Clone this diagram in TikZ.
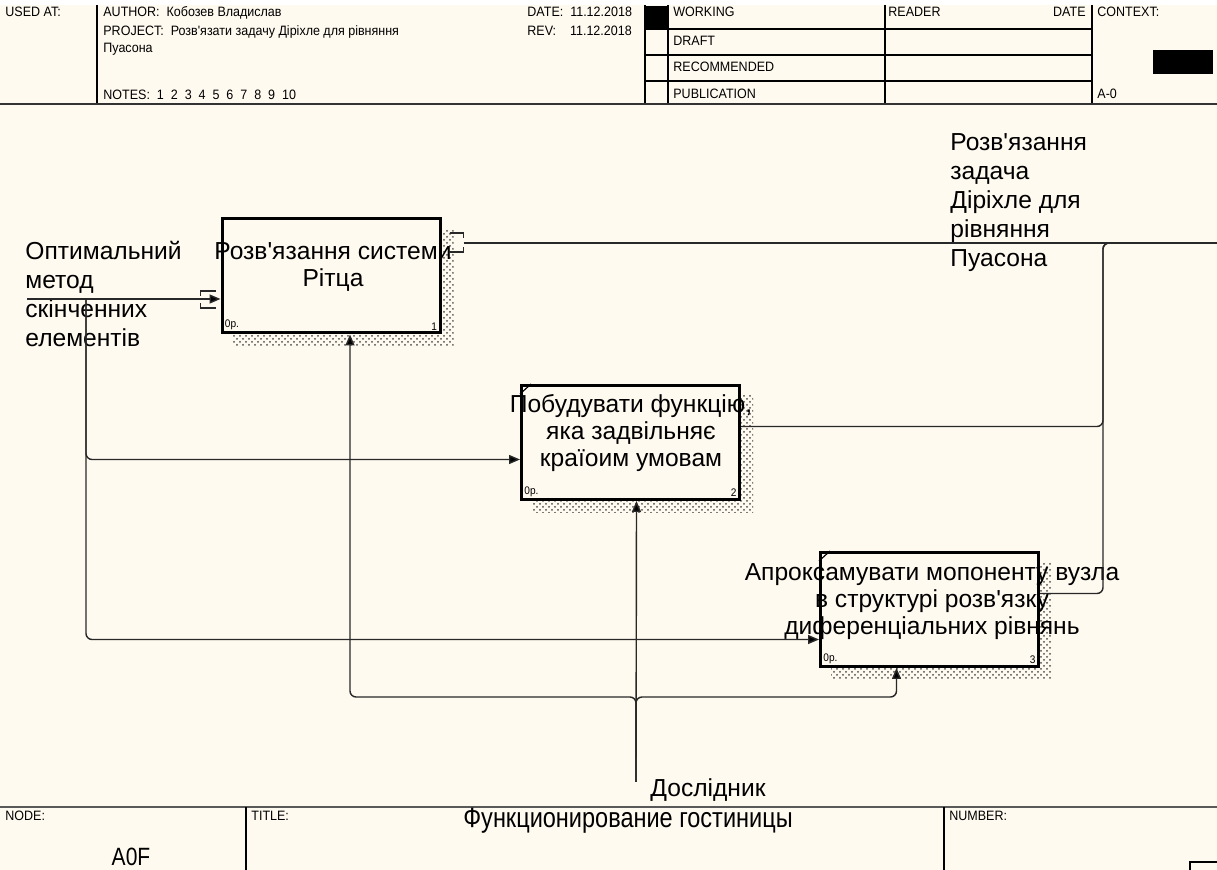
\documentclass[tikz,border=0pt]{standalone}
\usepackage{fontspec}
\setmainfont{Liberation Sans}
\newfontfamily\plainfont{Liberation Sans}
\newfontfamily\narrowfont[FakeStretch=0.92]{Liberation Sans}
\newfontfamily\titlefont[FakeStretch=0.84]{Liberation Sans}
\usetikzlibrary{arrows.meta,positioning,calc,backgrounds,patterns}
\definecolor{paper}{RGB}{255,250,240}
\definecolor{wire}{RGB}{40,40,40}

\begin{document}
\begin{tikzpicture}[
  x=0.5pt, y=-0.5pt,
  func/.style={draw=black, line width=1.5pt, fill=paper, minimum width=109pt,
               minimum height=57pt, inner sep=0pt},
  ftext/.style={align=center, inner sep=0pt, font=\plainfont\fontsize{12.3}{13.5}\selectfont},
  lab/.style={align=left, anchor=north west, inner sep=0pt,
              font=\plainfont\fontsize{12.3}{14.5}\selectfont},
  numlab/.style={inner sep=2pt, font=\narrowfont\fontsize{5.5}{6}\selectfont},
  hdr/.style={anchor=base west, inner sep=0pt, font=\narrowfont\fontsize{6.8}{7.5}\selectfont},
  rulez/.style={draw=black, line width=0.7pt},
  link/.style={draw=wire, line width=0.7pt, rounded corners=3pt},
  flow/.style={link, -{Triangle[length=5.5pt,width=4.5pt,fill=black]}},
  boxshadow/.style={pattern=crosshatch dots, pattern color=black!70},
  tunnel/.style={draw=wire, line width=0.6pt}
]
\useasboundingbox (0,0) rectangle (1217,870);

\node[func] (b1) at (331,276) {};
\node[func] (b2) at (630.5,442.5) {};
\node[func] (b3) at (929.5,609.5) {};

\node[ftext] (t1) at (333,267) {Розв'язання системи\\Рітца};
\node[ftext] (t2) at (631,433) {Побудувати функцію,\\яка задвільняє\\країоим умовам};
\node[ftext] (t3) at (932,602) {Апроксамувати мопоненту вузла\\в структурі розв'язку\\диференціальних рівнянь};

\node[numlab, anchor=south west] (b1op) at (b1.south west) {0р.};
\node[numlab, anchor=south east] (b1no) at (b1.south east) {1};
\node[numlab, anchor=south west] (b2op) at (b2.south west) {0р.};
\node[numlab, anchor=south east] (b2no) at (b2.south east) {2};
\node[numlab, anchor=south west] (b3op) at (b3.south west) {0р.};
\node[numlab, anchor=south east] (b3no) at (b3.south east) {3};

\draw[line width=0.6pt] ([yshift=-5pt]b2.north west) -- ([xshift=5.5pt]b2.north west);
\draw[line width=0.6pt] ([yshift=-5pt]b3.north west) -- ([xshift=5.5pt]b3.north west);

\node[lab] (inlab) at (25,241) {Оптимальний\\метод\\скінченних\\елементів};
\node[lab] (outlab) at (950,133) {Розв'язання\\задача\\Діріхле для\\рівняння\\Пуасона};
\node[lab, anchor=base west] (mechlab) at (650,797) {Дослідник};

\coordinate (cin) at (27,299);
\coordinate (jin) at (86,299);
\coordinate (cout) at (1217,243);
\coordinate (jout) at (1103,243);
\coordinate (mech) at (636,782);
\coordinate (jmech) at (636,697);

\draw[flow] (cin) -- (cin -| b1.west);
\draw[flow] (jin) |- ([yshift=-8.5pt]b2.west);
\draw[flow] (jin) |- ([yshift=-15pt]b3.west);

\draw[link] ([xshift=11pt,yshift=16.5pt]b1.east) -- (cout);
\draw[link] ([yshift=8pt]b2.east) -| (jout) -- ++(10,0);
\draw[link] ([yshift=8pt]b3.east) -| (jout) -- ++(10,0);

\draw[flow] (mech) -- ([xshift=3pt]b2.south);
\draw[flow] (mech) -- (jmech) -| ([xshift=9.5pt]b1.south);
\draw[flow] (mech) -- (jmech) -| ([xshift=-16.5pt]b3.south);

\draw[tunnel] ([shift={(-5,-8)}]cin -| b1.west) -- ([shift={(-20,-8)}]cin -| b1.west) -- ++(0,5);
\draw[tunnel] ([shift={(-5,9)}]cin -| b1.west) -- ([shift={(-20,9)}]cin -| b1.west) -- ++(0,-5);
\draw[tunnel] ([shift={(8,-10)}]cout -| b1.east) -- ([shift={(22,-10)}]cout -| b1.east) -- ++(0,5);
\draw[tunnel] ([shift={(8,9)}]cout -| b1.east) -- ([shift={(22,9)}]cout -| b1.east) -- ++(0,-5);

\begin{scope}[on background layer]
  \fill[paper] (0,5) rectangle (1217,870);
  \fill[white] (0,0) rectangle (1217,5);
  \fill[boxshadow] ([shift={(12,12)}]b1.north west) rectangle ([shift={(12,12)}]b1.south east);
  \fill[boxshadow] ([shift={(12,12)}]b2.north west) rectangle ([shift={(12,12)}]b2.south east);
  \fill[boxshadow] ([shift={(12,12)}]b3.north west) rectangle ([shift={(12,12)}]b3.south east);
\end{scope}

\draw[rulez] (97,5) -- (97,104);
\draw[rulez] (645,5) -- (645,104);
\draw[rulez] (668,5) -- (668,104);
\draw[rulez] (885,5) -- (885,104);
\draw[rulez] (1092,5) -- (1092,104);
\foreach \yy in {29,55,81}
  \draw[rulez] (645,\yy) -- (1092,\yy);
\fill[black] (645,6) rectangle (668,28);
\fill[black] (1153,50) rectangle (1213,74);
\draw[draw=black!80, line width=1pt] (0,104) -- (1217,104);

\node[hdr] (usedat) at (5,17) {USED AT:};
\node[hdr] (author) at (103,17) {AUTHOR:\ \ Кобозев Владислав};
\node[hdr] (project) at (103,36) {PROJECT:\ \ Розв'язати задачу Діріхле для рівняння};
\node[hdr] (project2) at (103,53) {Пуасона};
\node[hdr] (notes) at (103,100) {NOTES:\ \ 1\ \ 2\ \ 3\ \ 4\ \ 5\ \ 6\ \ 7\ \ 8\ \ 9\ \ 10};
\node[hdr] (date) at (527,17) {DATE:\ \ 11.12.2018};
\node[hdr] (rev) at (527,36) {REV:\ \ \ \ 11.12.2018};
\node[hdr] (working) at (673,17) {WORKING};
\node[hdr] (draft) at (673,46) {DRAFT};
\node[hdr] (recom) at (673,72) {RECOMMENDED};
\node[hdr] (publ) at (673,99) {PUBLICATION};
\node[hdr] (reader) at (888,17) {READER};
\node[hdr, anchor=base east] (rdate) at (1086,17) {DATE};
\node[hdr] (context) at (1097,17) {CONTEXT:};
\node[hdr] (aminus) at (1097,99) {A-0};

\draw[draw=black!65, line width=1.2pt] (0,807) -- (1217,807);
\draw[rulez] (246,807) -- (246,870);
\draw[rulez] (944,807) -- (944,870);
\draw[rulez] (1217,862) -- (1190,862) -- (1190,870);

\node[hdr] (nodelab) at (5,821) {NODE:};
\node[hdr] (titlelab) at (251,821) {TITLE:};
\node[hdr] (numberlab) at (949,821) {NUMBER:};
\node[inner sep=0pt, font=\titlefont\fontsize{12.5}{14}\selectfont] (nodeid) at (131,857) {A0F};
\node[inner sep=0pt, font=\titlefont\fontsize{14}{16}\selectfont] (title) at (628,821) {Функционирование гостиницы};
\end{tikzpicture}
\end{document}
